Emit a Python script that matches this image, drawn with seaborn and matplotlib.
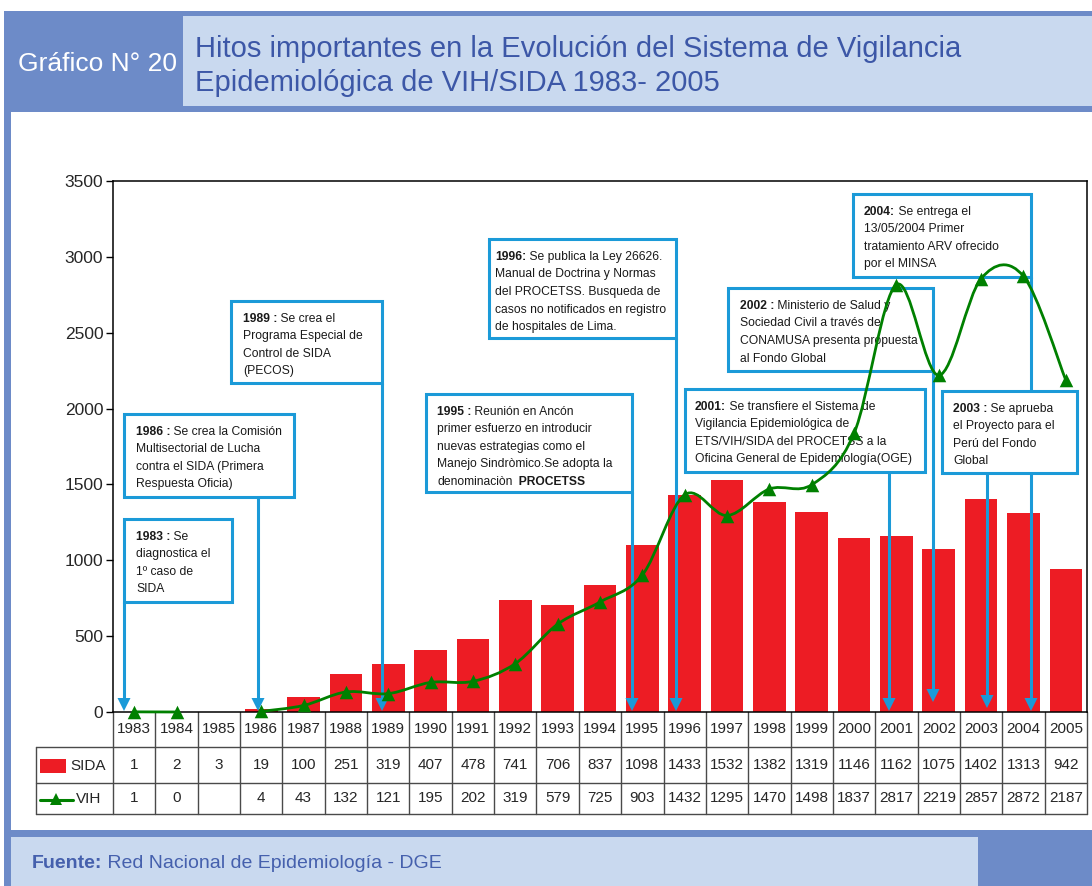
import numpy as np
import pandas as pd
import matplotlib
matplotlib.use("Agg")
import matplotlib.pyplot as plt
import seaborn as sns
from matplotlib import font_manager
from matplotlib.path import Path
from matplotlib.patches import PathPatch, Rectangle, Polygon
from matplotlib.lines import Line2D
from matplotlib.transforms import Affine2D, blended_transform_factory

# ---- data ----
years = list(range(1983, 2006))
sida = [1, 2, 3, 19, 100, 251, 319, 407, 478, 741, 706, 837, 1098,
        1433, 1532, 1382, 1319, 1146, 1162, 1075, 1402, 1313, 942]
vih = [1, 0, np.nan, 4, 43, 132, 121, 195, 202, 319, 579, 725, 903,
       1432, 1295, 1470, 1498, 1837, 2817, 2219, 2857, 2872, 2187]
y_ticks = [0, 500, 1000, 1500, 2000, 2500, 3000, 3500]

title_lines = ["Hitos importantes en la Evolución del Sistema de Vigilancia",
               "Epidemiológica de VIH/SIDA 1983- 2005"]
chart_number = "Gráfico N° 20"
source_bold = "Fuente:"
source_text = " Red Nacional de Epidemiología - DGE"

# texts of the milestone boxes: each line is a list of (text, bold)
note_1983 = [[("1983 :", True), (" Se", False)], [("diagnostica el", False)],
             [("1º caso de", False)], [("SIDA", False)]]
note_1986 = [[("1986 :", True), (" Se crea la Comisión", False)],
             [("Multisectorial de Lucha", False)],
             [("contra el SIDA (Primera", False)], [("Respuesta Oficia)", False)]]
note_1989 = [[("1989 :", True), (" Se crea el", False)], [("Programa Especial de", False)],
             [("Control de SIDA", False)], [("(PECOS)", False)]]
note_1995 = [[("1995 :", True), (" Reunión en Ancón", False)],
             [("primer esfuerzo en introducir", False)],
             [("nuevas estrategias como el", False)],
             [("Manejo Sindròmico.Se adopta la", False)],
             [("denominaciòn", False), ("  PROCETSS", True)]]
note_1996 = [[("1996:", True), (" Se publica la Ley 26626.", False)],
             [("Manual de Doctrina y Normas", False)],
             [("del PROCETSS. Busqueda de", False)],
             [("casos no notificados en registro", False)],
             [("de hospitales de Lima.", False)]]
note_2001 = [[("2001:", True), (" Se transfiere el Sistema de", False)],
             [("Vigilancia Epidemiológica de", False)],
             [("ETS/VIH/SIDA del PROCETSS a la", False)],
             [("Oficina General de Epidemiología(OGE)", False)]]
note_2002 = [[("2002 :", True), (" Ministerio de Salud y", False)],
             [("Sociedad Civil a través de", False)],
             [("CONAMUSA presenta propuesta", False)], [("al Fondo Global", False)]]
note_2003 = [[("2003 :", True), (" Se aprueba", False)], [("el Proyecto para el", False)],
             [("Perú del Fondo", False)], [("Global", False)]]
note_2004 = [[("2004:", True), (" Se entrega el", False)], [("13/05/2004 Primer", False)],
             [("tratamiento ARV ofrecido", False)], [("por el MINSA", False)]]

# ---- layout (pixels from top-left of the picture) ----
W, H = 1092, 886
RED = "#ed1c24"
GREEN = "#008000"
NOTE_BLUE = "#1b9ad8"
HEAD_DARK = "#6d8bc8"
HEAD_LIGHT = "#c9d9ef"
TITLE_BLUE = "#3c57a7"
LINE_GRAY = "#4a4a4a"

# box: left, top, right, bottom, text x ; arrow: x, start y, tip y
boxes = [
    (note_1983, (124, 519, 232, 602), 136, (124, 602, 711)),
    (note_1986, (124, 414, 294, 497), 136, (258, 497, 711)),
    (note_1989, (231, 301, 382, 383), 243, (382, 383, 711)),
    (note_1995, (426, 394, 632, 492), 437, (632, 492, 711)),
    (note_1996, (489, 239, 676, 338), 495, (676, 338, 711)),
    (note_2001, (685, 389, 925, 472), 695, (889, 472, 711)),
    (note_2002, (728, 288, 933, 371), 740, (933, 371, 702)),
    (note_2004, (853, 194, 1031, 277), 864, (1031, 277, 711)),
    (note_2003, (942, 391, 1077, 473), 953, (987, 473, 708)),
]

sns.set_style("white")
plt.rcParams["font.family"] = ["Liberation Sans", "DejaVu Sans"]

names = {f.name for f in font_manager.fontManager.ttflist}
if "Liberation Sans Narrow" in names:
    NOTE_FONT, NOTE_SIZE = ["Liberation Sans Narrow", "Liberation Sans"], 10.4
else:
    NOTE_FONT, NOTE_SIZE = ["Liberation Sans", "DejaVu Sans"], 8.7

fig = plt.figure(figsize=(W / 100, H / 100), dpi=100)
PIX = Affine2D().scale(1.0 / W, -1.0 / H).translate(0, 1) + fig.transFigure
renderer = fig.canvas.get_renderer()

ax_left, ax_right, ax_top, ax_bottom = 113, 1087, 181, 712
ax = fig.add_axes([ax_left / W, 1 - ax_bottom / H,
                   (ax_right - ax_left) / W, (ax_bottom - ax_top) / H])


def put_parts(x, y, parts, size, family, color, zorder, target=ax):
    # draw a line made of normal and bold pieces, one after the other
    for txt, bold in parts:
        t = target.text(x, y, txt, transform=PIX, fontsize=size, family=family,
                        fontweight="bold" if bold else "normal", color=color,
                        ha="left", va="baseline", zorder=zorder, clip_on=False)
        x += t.get_window_extent(renderer).width


# ---- header and footer frame ----
for rect, col in [((4, 11, W - 4, 101), HEAD_DARK), ((183, 16, W - 183, 90), HEAD_LIGHT),
                  ((4, 112, 7, H - 112), HEAD_DARK), ((4, 830, W - 4, 7), HEAD_DARK),
                  ((11, 837, 967, 49), HEAD_LIGHT), ((978, 837, W - 978, 49), HEAD_DARK)]:
    fig.add_artist(Rectangle(rect[:2], rect[2], rect[3], transform=PIX,
                             facecolor=col, edgecolor="none", zorder=0))

fig.text(18, 71, chart_number, transform=PIX, fontsize=19, color="white", va="baseline")
fig.text(195, 57, title_lines[0], transform=PIX, fontsize=21, color=TITLE_BLUE, va="baseline")
fig.text(195, 91, title_lines[1], transform=PIX, fontsize=21, color=TITLE_BLUE, va="baseline")
put_parts(32, 868, [(source_bold, True), (source_text, False)], 14,
          ["Liberation Sans", "DejaVu Sans"], "#4560ad", 5, target=fig)

# ---- bars and line ----
df = pd.DataFrame({"year": [str(y) for y in years], "SIDA": sida, "VIH": vih})
pos = np.arange(len(years))
sns.barplot(data=df, x="year", y="SIDA", color=RED, saturation=1, width=0.77,
            errorbar=None, linewidth=0, ax=ax, zorder=2)


def smooth_path(xs, ys):
    # Excel-like smoothed line: bezier segments through every point
    verts = [(xs[0], ys[0])]
    codes = [Path.MOVETO]
    n = len(xs)
    for i in range(n - 1):
        a, b = max(i - 1, 0), min(i + 2, n - 1)
        c1 = (xs[i] + (xs[i + 1] - xs[a]) / 6, ys[i] + (ys[i + 1] - ys[a]) / 6)
        c2 = (xs[i + 1] - (xs[b] - xs[i]) / 6, ys[i + 1] - (ys[b] - ys[i]) / 6)
        verts += [c1, c2, (xs[i + 1], ys[i + 1])]
        codes += [Path.CURVE4] * 3
    return Path(verts, codes)


vih_arr = np.array(vih, dtype=float)
ok = ~np.isnan(vih_arr)
start = None
for i in range(len(vih_arr) + 1):
    if i < len(vih_arr) and ok[i]:
        if start is None:
            start = i
    elif start is not None:
        seg = slice(start, i)
        ax.add_patch(PathPatch(smooth_path(pos[seg], vih_arr[seg]), facecolor="none",
                               edgecolor=GREEN, lw=2, zorder=6, clip_on=False))
        start = None

sns.scatterplot(x=pos[ok], y=vih_arr[ok], marker="^", s=95, color=GREEN,
                edgecolor=GREEN, linewidth=0, ax=ax, zorder=7, clip_on=False)

ax.set_xlim(-0.5, len(years) - 0.5)
ax.set_ylim(0, 3500)
ax.set_yticks(y_ticks)
ax.set_xticks([])
ax.set_xlabel("")
ax.set_ylabel("")
ax.tick_params(axis="y", direction="out", length=5, width=1, color="black",
               labelsize=12.5, pad=2, left=True)
for s in ax.spines.values():
    s.set_visible(True)
    s.set_color("black")
    s.set_linewidth(1.1)

# ---- milestone boxes with arrows ----
for lines, (l, t, r, b), tx, (axx, ay0, ay1) in boxes:
    ax.add_line(Line2D([axx, axx], [ay0, ay1 - 11], transform=PIX, color=NOTE_BLUE,
                       lw=2.2, zorder=3, clip_on=False))
    ax.add_patch(Polygon([(axx - 6.5, ay1 - 13), (axx + 6.5, ay1 - 13), (axx, ay1)],
                         closed=True, transform=PIX, facecolor=NOTE_BLUE,
                         edgecolor="none", zorder=3, clip_on=False))
    ax.add_patch(Rectangle((l, t), r - l, b - t, transform=PIX, facecolor="white",
                           edgecolor=NOTE_BLUE, lw=2.2, zorder=4, clip_on=False))
    for k, parts in enumerate(lines):
        put_parts(tx, t + 21 + k * 17.5, parts, NOTE_SIZE, NOTE_FONT, "#1a1a1a", 5)

# ---- data table under the chart ----
XPIX = blended_transform_factory(ax.transData, PIX)
row_year, row_sida, row_vih, row_end = 712, 747, 783, 814
for k in range(len(years) + 1):
    ax.add_line(Line2D([k - 0.5, k - 0.5], [row_year, row_end], transform=XPIX,
                       color=LINE_GRAY, lw=1, zorder=1, clip_on=False))
for yy in [row_sida, row_vih, row_end]:
    ax.add_line(Line2D([36, ax_right], [yy, yy], transform=PIX, color=LINE_GRAY,
                       lw=1, zorder=1, clip_on=False))
ax.add_line(Line2D([36, 36], [row_sida, row_end], transform=PIX, color=LINE_GRAY,
                   lw=1, zorder=1, clip_on=False))

for k, yr in enumerate(years):
    ax.text(k, 729, str(yr), transform=XPIX, ha="center", va="center", fontsize=11,
            clip_on=False)
    ax.text(k, 765, str(sida[k]), transform=XPIX, ha="center", va="center", fontsize=11,
            clip_on=False)
    if not np.isnan(vih_arr[k]):
        ax.text(k, 798, str(int(vih_arr[k])), transform=XPIX, ha="center", va="center",
                fontsize=11, clip_on=False)

# legend keys in the first column
ax.add_patch(Rectangle((40, 759), 26, 14, transform=PIX, facecolor=RED,
                       edgecolor="none", clip_on=False))
ax.text(70, 766, "SIDA", transform=PIX, va="center", fontsize=11, clip_on=False)
ax.add_line(Line2D([40, 73], [800, 800], transform=PIX, color=GREEN, lw=2.2,
                   clip_on=False))
ax.add_line(Line2D([56], [799], transform=PIX, color=GREEN, marker="^", ms=8,
                   markeredgewidth=0, clip_on=False))
ax.text(76, 799, "VIH", transform=PIX, va="center", fontsize=11, clip_on=False)

fig.savefig("out.png", dpi=100)
